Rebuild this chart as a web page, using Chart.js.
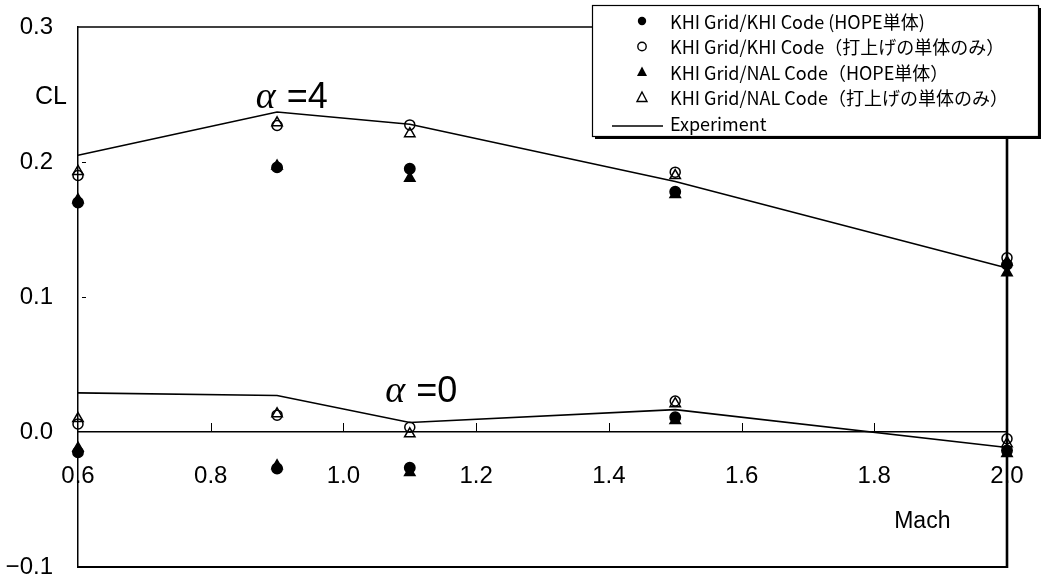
<!DOCTYPE html>
<html>
<head>
<meta charset="utf-8">
<script src="https://cdn.jsdelivr.net/npm/chart.js@4"></script>
<style>
  html, body { margin: 0; padding: 0; background: #fff; }
  canvas { display: block; }
</style>
</head>
<body>
<canvas id="cl" width="1042" height="586"></canvas>
<script>
// Mach numbers of the computed cases
const machNumbers = [0.6, 0.9, 1.1, 1.5, 2.0];

// Lift coefficient, angle of attack 4 deg
const khiKhiHopeA4   = [0.170, 0.196, 0.195, 0.178, 0.124];
const khiKhiLaunchA4 = [0.190, 0.227, 0.2275, 0.1925, 0.129];
const khiNalHopeA4   = [0.172, 0.197, 0.188, 0.176, 0.118];
const khiNalLaunchA4 = [0.193, 0.229, 0.221, 0.190, 0.126];

// Lift coefficient, angle of attack 0 deg
const khiKhiHopeA0   = [-0.015, -0.027, -0.0265, 0.011, -0.0137];
const khiKhiLaunchA0 = [0.006, 0.0125, 0.0035, 0.023, -0.005];
const khiNalHopeA0   = [-0.012, -0.025, -0.030, 0.0085, -0.016];
const khiNalLaunchA0 = [0.010, 0.0135, -0.0013, 0.021, -0.0087];

// Wind tunnel experiment
const experimentA4 = [0.205, 0.237, 0.228, 0.1856, 0.1215];
const experimentA0 = [0.029, 0.027, 0.007, 0.0166, -0.0115];

// Axis ticks
const machTicks = [0.6, 0.8, 1.0, 1.2, 1.4, 1.6, 1.8, 2.0];
const clTicks = [-0.1, 0.0, 0.1, 0.2, 0.3];

const seriesLabels = [
  'KHI Grid/KHI Code (HOPE単体)',
  'KHI Grid/KHI Code（打上げの単体のみ）',
  'KHI Grid/NAL Code（HOPE単体）',
  'KHI Grid/NAL Code（打上げの単体のみ）',
  'Experiment'
];

const toPoints = (ys) => machNumbers.map((m, i) => ({ x: m, y: ys[i] }));
const both = (a4, a0) => toPoints(a4).concat(toPoints(a0));

const INK = '#000';
const TICK_FONT = { family: '"Liberation Sans", Arial, sans-serif', size: 24 };

function markerSet(label, data, style, filled, radius) {
  return {
    type: 'scatter', label, data,
    pointStyle: style,
    pointRadius: radius,
    pointBorderWidth: 1.5,
    pointBorderColor: INK,
    pointBackgroundColor: filled ? INK : 'rgba(0,0,0,0)',
    showLine: false,
    clip: false
  };
}
function experimentSet(label, data) {
  return {
    type: 'line', label, data,
    borderColor: INK, borderWidth: 1.6,
    pointRadius: 0, tension: 0, fill: false,
    showLine: true, clip: false
  };
}

// Frame, upward axis ticks, annotations and legend
const decorations = {
  id: 'decorations',
  afterDraw(chart) {
    const { ctx, chartArea: a, scales: { x, y } } = chart;
    ctx.save();
    ctx.strokeStyle = INK;
    ctx.lineCap = 'butt';

    // plot frame
    ctx.lineWidth = 1.5;
    ctx.beginPath();
    ctx.moveTo(a.left, a.top); ctx.lineTo(a.right, a.top);
    ctx.stroke();
    ctx.lineWidth = 2;
    ctx.beginPath();
    ctx.moveTo(a.left, a.bottom); ctx.lineTo(a.right, a.bottom);
    ctx.stroke();
    ctx.lineWidth = 2.6;
    ctx.beginPath();
    ctx.moveTo(a.right, a.top); ctx.lineTo(a.right, a.bottom + 1);
    ctx.stroke();

    // small ticks pointing up from the CL = 0 line
    const y0 = y.getPixelForValue(0);
    ctx.lineWidth = 1;
    machTicks.slice(1, -1).forEach(m => {
      const px = Math.round(x.getPixelForValue(m)) + 0.5;
      ctx.beginPath(); ctx.moveTo(px, y0); ctx.lineTo(px, y0 - 9); ctx.stroke();
    });
    // tiny inner ticks on the CL axis
    [0.1, 0.2].forEach(v => {
      const py = Math.round(y.getPixelForValue(v)) + 0.5;
      ctx.beginPath(); ctx.moveTo(a.left + 4, py); ctx.lineTo(a.left + 8, py); ctx.stroke();
    });

    // axis titles
    ctx.fillStyle = INK;
    ctx.textBaseline = 'alphabetic';
    ctx.font = '25px "Liberation Sans", Arial, sans-serif';
    ctx.textAlign = 'center';
    ctx.fillText('CL', a.left - 27, a.top + 77);
    ctx.textAlign = 'left';
    ctx.font = '23px "Liberation Sans", Arial, sans-serif';
    ctx.fillText('Mach', x.getPixelForValue(1.83), y.getPixelForValue(-0.071));

    // angle of attack labels
    const alphaLabel = (text, m, cl) => {
      const px = x.getPixelForValue(m), py = y.getPixelForValue(cl);
      ctx.font = 'italic 38px "Liberation Serif", serif';
      ctx.fillText('α', px, py);
      const w = ctx.measureText('α').width;
      ctx.font = '36px "Liberation Sans", Arial, sans-serif';
      ctx.fillText(text, px + w + 11, py);
    };
    alphaLabel('=4', 0.868, 0.24);
    alphaLabel('=0', 1.063, 0.0222);

    // legend
    const L = 592, T = 5, W = 446, H = 131;
    ctx.fillStyle = INK;
    ctx.fillRect(L + 3, T + 3, W, H);
    ctx.fillStyle = '#fff';
    ctx.fillRect(L, T, W, H);
    ctx.lineWidth = 1.2;
    ctx.strokeRect(L + 0.5, T + 0.5, W, H);

    const mx = 642, tx = 670;
    const rowY = i => T + 16 + i * 25.5;
    ctx.fillStyle = INK;
    ctx.lineWidth = 1.4;
    // filled circle
    ctx.beginPath(); ctx.arc(mx, rowY(0), 4.2, 0, Math.PI * 2); ctx.fill();
    // open circle
    ctx.beginPath(); ctx.arc(mx, rowY(1), 4.2, 0, Math.PI * 2); ctx.stroke();
    // triangles
    const tri = (cy, fill) => {
      ctx.beginPath();
      ctx.moveTo(mx, cy - 5.5); ctx.lineTo(mx + 5, cy + 4); ctx.lineTo(mx - 5, cy + 4); ctx.closePath();
      fill ? ctx.fill() : ctx.stroke();
    };
    tri(rowY(2), true);
    tri(rowY(3), false);
    // experiment line
    ctx.lineWidth = 1.5;
    ctx.beginPath(); ctx.moveTo(612, rowY(4) + 3); ctx.lineTo(663, rowY(4) + 3); ctx.stroke();

    ctx.font = '18px "Noto Sans CJK JP", sans-serif';
    ctx.textAlign = 'left';
    ctx.textBaseline = 'middle';
    seriesLabels.forEach((t, i) => ctx.fillText(t, tx, rowY(i) + 1));
    ctx.restore();
  }
};

new Chart(document.getElementById('cl'), {
  data: {
    datasets: [
      markerSet(seriesLabels[0], both(khiKhiHopeA4, khiKhiHopeA0), 'circle', true, 5.2),
      markerSet(seriesLabels[2], both(khiNalHopeA4, khiNalHopeA0), 'triangle', true, 6),
      markerSet(seriesLabels[1], both(khiKhiLaunchA4, khiKhiLaunchA0), 'circle', false, 5),
      markerSet(seriesLabels[3], both(khiNalLaunchA4, khiNalLaunchA0), 'triangle', false, 6),
      experimentSet(seriesLabels[4], toPoints(experimentA4)),
      experimentSet(seriesLabels[4] + ' α=0', toPoints(experimentA0))
    ]
  },
  options: {
    responsive: false,
    animation: false,
    events: [],
    layout: { padding: { top: 27, bottom: 19, right: 35, left: 0 } },
    plugins: { legend: { display: false }, tooltip: { enabled: false } },
    scales: {
      x: {
        type: 'linear', min: 0.6, max: 2.0,
        position: { y: 0 },
        afterBuildTicks: s => { s.ticks = machTicks.map(v => ({ value: v })); },
        // labels sit below the CL = 0 line; keep them from shrinking the plot area
        afterFit: s => { s.paddingLeft = 0; s.paddingRight = 0; },
        ticks: { color: INK, font: TICK_FONT, padding: 30, maxRotation: 0, autoSkip: false,
                 callback: v => v.toFixed(1) },
        grid: { display: false, drawTicks: false },
        border: { color: INK, width: 1.5 }
      },
      y: {
        type: 'linear', min: -0.1, max: 0.3,
        afterBuildTicks: s => { s.ticks = clTicks.map(v => ({ value: v })); },
        afterFit: s => { s.width = 78; s.paddingTop = 0; s.paddingBottom = 0; },
        ticks: { color: INK, font: TICK_FONT, padding: 25,
                 callback: v => (v < 0 ? '−' : '') + Math.abs(v).toFixed(1) },
        grid: { display: false, drawTicks: false },
        border: { color: INK, width: 1.5 }
      }
    }
  },
  plugins: [decorations]
});
</script>
</body>
</html>
